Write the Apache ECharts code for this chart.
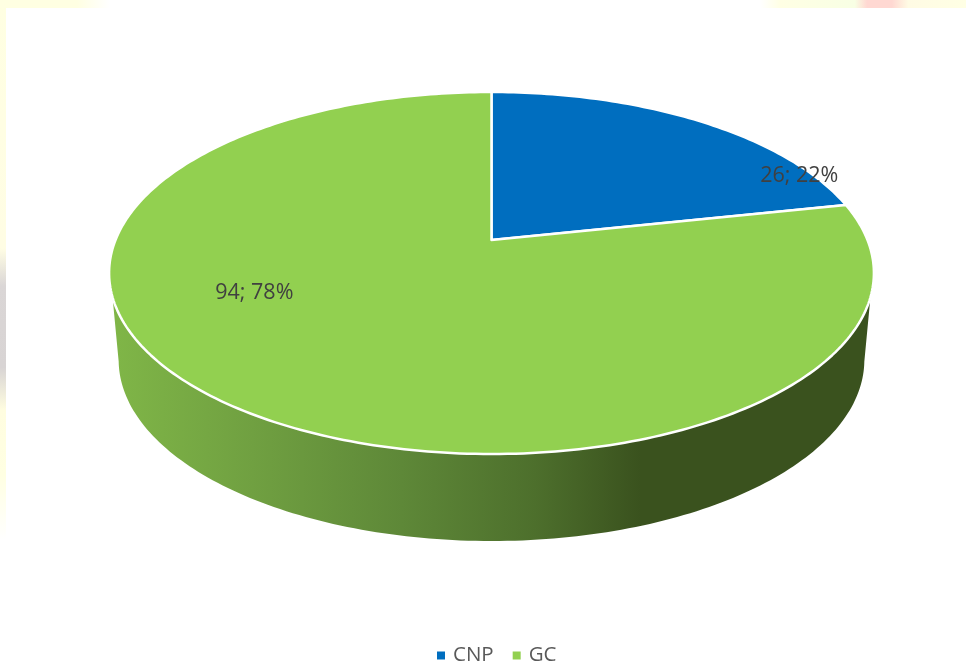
<!DOCTYPE html>
<html><head><meta charset="utf-8">
<style>html,body{margin:0;padding:0;background:#fff}#c{width:966px;height:666px}</style>
<script src="https://cdn.jsdelivr.net/npm/echarts@6/dist/echarts.min.js"></script>
</head><body><div id="c"></div>
<script>
const categories = ['CNP', 'GC'];
const values = [26, 94];
const colors = ['#006EBF', '#92D050'];
const labelOffsets = [[100.5, 55], [38.5, -106]];

const total = values.reduce((a, b) => a + b, 0);
// Projective view of the pie disc
const CX = 491.5, CY = 240, A = 376, B = 175, K = 0.1823;
const DEPTH = 87, LOWER_SCALE = 0.975;
const TAU = Math.PI * 2;
function proj(t) {
  const u = Math.sin(t), v = Math.cos(t), w = 1 + K * v;
  return [A * u / w, B * v / w];
}
function topPt(t) { const p = proj(t); return [CX + p[0], CY - p[1]]; }
function lowPt(t) {
  const p = proj(t);
  return [CX + p[0] * LOWER_SCALE, CY + DEPTH - p[1]];
}
const sideFill = new echarts.graphic.LinearGradient(118, 0, 864, 0, [
  { offset: 0, color: '#7FB547' },
  { offset: 0.18, color: '#70A041' },
  { offset: 0.38, color: '#5E8838' },
  { offset: 0.56, color: '#4D6F2C' },
  { offset: 0.70, color: '#3A521E' },
  { offset: 1, color: '#3A521E' }
], true);

function renderSlice(params, api) {
  const i = params.seriesIndex;
  const start = values.slice(0, i).reduce((a, b) => a + b, 0) / total * TAU;
  const end = start + api.value(0) / total * TAU;
  const n = Math.max(8, Math.round((end - start) / TAU * 360));
  const arc = [], sideTop = [], sideLow = [];
  for (let s = 0; s <= n; s++) {
    const t = start + (end - start) * s / n;
    const a = topPt(t), b = lowPt(t);
    arc.push(a);
    if (a[1] >= 297) sideTop.push(a);
    if (b[1] >= 360) sideLow.push(b);
  }
  const children = [];
  if (sideTop.length > 1) {
    children.push({
      type: 'polygon',
      shape: { points: sideTop.concat(sideLow.reverse()) },
      style: { fill: sideFill }
    });
  }
  children.push({
    type: 'polygon',
    shape: { points: [[CX, CY]].concat(arc) },
    style: { fill: colors[i], stroke: '#fff', lineWidth: 2.5, lineJoin: 'round' }
  });
  const mid = topPt((start + end) / 2);
  const pct = Math.round(api.value(0) / total * 100);
  children.push({
    type: 'text',
    z2: 50,
    style: {
      x: mid[0] + labelOffsets[i][0],
      y: mid[1] + labelOffsets[i][1],
      text: api.value(0) + '; ' + pct + '%',
      fill: '#404040',
      font: '21.5px "Open Sans"',
      align: 'center',
      verticalAlign: 'middle'
    }
  });
  return { type: 'group', children };
}

const chart = echarts.init(document.getElementById('c'), null, { renderer: 'canvas' });
const band = (x, y, w, h, horizontal, stops) => ({
  type: 'rect', silent: true, z: -10,
  shape: { x, y, width: w, height: h },
  style: { fill: new echarts.graphic.LinearGradient(0, 0, horizontal ? 1 : 0, horizontal ? 0 : 1, stops) }
});
chart.setOption({
  animation: false,
  backgroundColor: '#fff',
  graphic: [
    band(0, 0, 110, 8, true, [
      { offset: 0, color: '#FFFFE2' }, { offset: 0.7, color: '#FFFFE2' }, { offset: 1, color: '#FFFFFF' }
    ]),
    band(760, 0, 206, 8, true, [
      { offset: 0, color: '#FFFFFF' }, { offset: 0.1, color: '#FFFFE4' }, { offset: 0.46, color: '#F8FFE4' },
      { offset: 0.52, color: '#FFD8D2' }, { offset: 0.64, color: '#FFD8D2' }, { offset: 0.72, color: '#FFFBE4' },
      { offset: 1, color: '#FFFFE4' }
    ]),
    band(0, 0, 6, 540, false, [
      { offset: 0, color: '#FFFFE2' }, { offset: 0.46, color: '#FFFDE4' }, { offset: 0.53, color: '#DAD6D6' },
      { offset: 0.68, color: '#D8D4D4' }, { offset: 0.76, color: '#FFFDE0' }, { offset: 0.88, color: '#FFFFE2' },
      { offset: 1, color: '#FFFFFF' }
    ])
  ],
  legend: {
    data: categories,
    left: 432, top: 640,
    icon: 'rect', itemWidth: 8, itemHeight: 8, itemGap: 19,
    selectedMode: false,
    textStyle: { color: '#595959', fontFamily: '"Open Sans"', fontSize: 20.5, padding: [0, 0, 0, 3] }
  },
  series: categories.map((name, i) => ({
    type: 'custom',
    name,
    coordinateSystem: 'none',
    itemStyle: { color: colors[i] },
    renderItem: renderSlice,
    data: [[values[i]]],
    silent: true
  }))
});
</script></body></html>
